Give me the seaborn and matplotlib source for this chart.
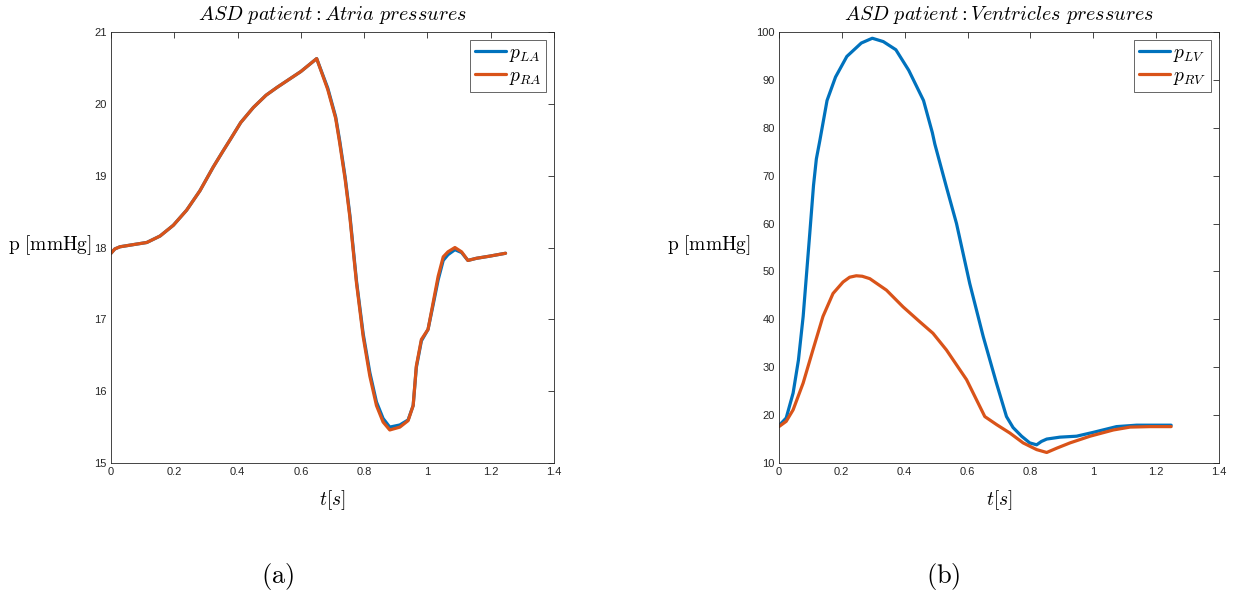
import numpy as np
import pandas as pd
import matplotlib
matplotlib.use("Agg")
import matplotlib.pyplot as plt
import seaborn as sns
from matplotlib.ticker import FuncFormatter, MultipleLocator

# ---------------- data ----------------
# Atria
t_ra = [0.0, 0.012, 0.028, 0.07, 0.113, 0.155, 0.197, 0.239, 0.281, 0.323, 0.355, 0.375,
        0.41, 0.45, 0.49, 0.525, 0.6, 0.65, 0.685, 0.71, 0.723, 0.74, 0.755, 0.776, 0.797, 0.818,
        0.839, 0.86, 0.881, 0.913, 0.939, 0.955, 0.965, 0.981, 1.002, 1.018,
        1.034, 1.05, 1.065, 1.087, 1.108, 1.128, 1.155, 1.197, 1.247]
p_ra = [17.92, 17.98, 18.01, 18.04, 18.07, 18.16, 18.31, 18.52, 18.79, 19.12, 19.35, 19.49,
        19.74, 19.95, 20.12, 20.23, 20.45, 20.63, 20.2, 19.8, 19.45, 18.95, 18.42, 17.5, 16.76, 16.21,
        15.8, 15.57, 15.46, 15.5, 15.59, 15.8, 16.35, 16.72, 16.86, 17.23,
        17.6, 17.87, 17.94, 18.0, 17.94, 17.82, 17.85, 17.88, 17.92]
t_la = t_ra
p_la = [17.92, 17.98, 18.01, 18.04, 18.07, 18.16, 18.31, 18.52, 18.79, 19.12, 19.35, 19.49,
        19.74, 19.95, 20.12, 20.23, 20.45, 20.63, 20.22, 19.82, 19.48, 18.98, 18.45, 17.53, 16.8, 16.26,
        15.85, 15.62, 15.5, 15.53, 15.6, 15.8, 16.33, 16.7, 16.86, 17.2,
        17.55, 17.82, 17.9, 17.97, 17.93, 17.82, 17.85, 17.88, 17.92]

# Ventricles
t_lv = [0.0, 0.023, 0.045, 0.062, 0.077, 0.098, 0.11, 0.119, 0.13, 0.153, 0.18, 0.216, 0.262,
        0.297, 0.332, 0.372, 0.413, 0.46, 0.488, 0.496, 0.533, 0.565, 0.607,
        0.65, 0.692, 0.724, 0.745, 0.772, 0.798, 0.82, 0.835, 0.852, 0.894, 0.947, 1.0,
        1.074, 1.138, 1.248]
p_lv = [17.8, 19.4, 24.6, 31.5, 40.6, 57.9, 68.0, 73.5, 77.3, 85.7, 90.6, 94.9, 97.7,
        98.7, 98.0, 96.3, 92.0, 85.7, 79.0, 76.6, 67.6, 60.0, 47.5,
        36.4, 26.7, 19.7, 17.4, 15.6, 14.2, 13.8, 14.5, 15.0, 15.4, 15.6, 16.4,
        17.6, 17.9, 17.9]
t_rv = [0.0, 0.023, 0.045, 0.077, 0.108, 0.14, 0.172, 0.204, 0.225, 0.246, 0.265, 0.289, 0.342,
        0.395, 0.448, 0.49, 0.533, 0.597, 0.655, 0.693, 0.735, 0.777, 0.82,
        0.852, 0.884, 0.926, 0.99, 1.064, 1.117, 1.181, 1.248]
p_rv = [17.6, 18.7, 21.1, 26.7, 33.6, 40.6, 45.4, 47.8, 48.8, 49.1, 49.0, 48.5, 46.1,
        42.6, 39.5, 37.1, 33.6, 27.4, 19.7, 18.0, 16.25, 14.2, 12.8,
        12.2, 13.1, 14.2, 15.6, 16.9, 17.5, 17.6, 17.6]

x_ticks = [0, 0.2, 0.4, 0.6, 0.8, 1.0, 1.2, 1.4]
blue = "#0072BD"
orange = "#D95319"

# ---------------- style ----------------
sns.set_theme(style="white")
plt.rcParams["font.family"] = ["Liberation Sans", "DejaVu Sans"]
plt.rcParams["mathtext.fontset"] = "cm"
plt.rcParams["text.color"] = "black"

fig = plt.figure(figsize=(12.39, 5.93), dpi=100)
ax1 = fig.add_axes([0.0896, 0.2192, 0.3575, 0.7268])
ax2 = fig.add_axes([0.6287, 0.2192, 0.3551, 0.7268])

df_a = pd.concat([
    pd.DataFrame({"t": t_la, "p": p_la, "s": r"$p_{LA}$"}),
    pd.DataFrame({"t": t_ra, "p": p_ra, "s": r"$p_{RA}$"}),
])
df_v = pd.concat([
    pd.DataFrame({"t": t_lv, "p": p_lv, "s": r"$p_{LV}$"}),
    pd.DataFrame({"t": t_rv, "p": p_rv, "s": r"$p_{RV}$"}),
])

for ax, df, title, ylim, ystep, ylc in [
    (ax1, df_a, r"$ASD\ patient : Atria\ pressures$", (15, 21), 1, -0.138),
    (ax2, df_v, r"$ASD\ patient : Ventricles\ pressures$", (10, 100), 10, -0.159),
]:
    sns.lineplot(data=df, x="t", y="p", hue="s", palette=[blue, orange],
                 sort=False, lw=2.3, ax=ax, estimator=None)
    ax.set_xlim(0, 1.4)
    ax.set_ylim(*ylim)
    ax.set_xticks(x_ticks)
    ax.yaxis.set_major_locator(MultipleLocator(ystep))
    ax.xaxis.set_major_formatter(FuncFormatter(lambda v, p: f"{v:g}"))
    ax.yaxis.set_major_formatter(FuncFormatter(lambda v, p: f"{v:g}"))
    ax.tick_params(direction="in", top=True, right=True, length=4, width=0.6,
                   colors="#262626", labelsize=8, pad=3)
    for sp in ax.spines.values():
        sp.set_color("#262626")
        sp.set_linewidth(0.6)
    ax.set_xlabel(r"$t[s]$", fontsize=14, color="black")
    ax.xaxis.set_label_coords(0.5, -0.086)
    ax.xaxis.label.set_va("center")
    ax.set_ylabel(r"$\mathrm{p\ [mmHg]}$", fontsize=14, rotation=0, color="black")
    ax.yaxis.set_label_coords(ylc, 0.505)
    ax.yaxis.label.set_va("center")
    ax.yaxis.label.set_ha("center")
    ax.text(0.5, 1.039, title, transform=ax.transAxes, ha="center",
            va="center", fontsize=14.5, color="black")
    leg = ax.legend(loc="upper right", fontsize=14, frameon=True, fancybox=False,
                    framealpha=1, edgecolor="#4d4d4d", handlelength=1.6,
                    borderaxespad=0.4, borderpad=0.25, labelspacing=0.15,
                    handletextpad=0.15)
    leg.get_frame().set_linewidth(0.6)
    for txt in leg.get_texts():
        txt.set_color("black")
    ax.grid(False)

fig.text(278 / 1239, 1 - 577 / 593, r"$\mathrm{(a)}$", ha="center", va="center",
         fontsize=19, color="black")
fig.text(943 / 1239, 1 - 577 / 593, r"$\mathrm{(b)}$", ha="center", va="center",
         fontsize=19, color="black")

fig.savefig("out.png", dpi=100)
